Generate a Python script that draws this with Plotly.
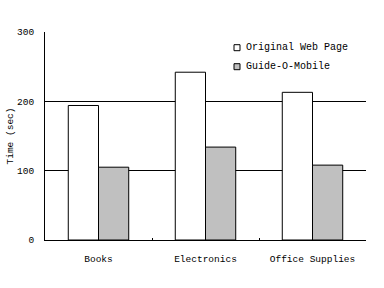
import plotly.graph_objects as go

# Task completion time per store section
categories = ["Books", "Electronics", "Office Supplies"]
series_names = ["Original Web Page", "Guide-O-Mobile"]
original_times = [194, 242, 213]
mobile_times = [105, 134, 108]
series_values = [original_times, mobile_times]
series_colors = ["#ffffff", "#c0c0c0"]
y_ticks = [0, 100, 200, 300]

FONT = "Liberation Mono, DejaVu Sans Mono, monospace"

fig = go.Figure()
for name, vals, color in zip(series_names, series_values, series_colors):
    fig.add_trace(go.Bar(
        x=categories, y=vals, name=name,
        marker=dict(color=color, line=dict(color="black", width=1)),
        showlegend=False,
    ))

# Compact legend: small boxes with labels in the upper right
for i, (name, color) in enumerate(zip(series_names, series_colors)):
    yc = 47.7 + 19 * i
    fig.add_shape(type="rect", xref="paper", yref="paper",
                  x0=(234 - 45) / 321, x1=(240 - 45) / 321,
                  y0=(240 - (yc + 3)) / 208, y1=(240 - (yc - 3)) / 208,
                  fillcolor=color, line=dict(color="black", width=1))
    fig.add_annotation(text=name, xref="paper", yref="paper",
                       x=(244 - 45) / 321, y=(240 - yc) / 208,
                       xanchor="left", yanchor="middle", showarrow=False,
                       font=dict(family=FONT, size=10, color="black"))

fig.update_layout(
    width=384, height=288,
    margin=dict(l=45, r=18, t=32, b=48),
    paper_bgcolor="white", plot_bgcolor="white",
    barmode="group", bargap=0.435, bargroupgap=0,
    font=dict(family=FONT, size=9.5, color="black"),
    xaxis=dict(
        showline=True, linecolor="black", linewidth=1,
        ticks="inside", ticklen=2, tickcolor="black", tickson="boundaries",
        showgrid=False, ticklabelstandoff=10, automargin=False,
    ),
    yaxis=dict(
        range=[0, 300], tickvals=y_ticks,
        showline=True, linecolor="black", linewidth=1,
        ticks="inside", ticklen=3, tickcolor="black",
        showgrid=True, gridcolor="black", gridwidth=1,
        zeroline=False, ticklabelstandoff=8, automargin=False,
        title=dict(text="Time (sec)", standoff=1, font=dict(size=9.5)),
    ),
)

fig.write_html("out.html")
